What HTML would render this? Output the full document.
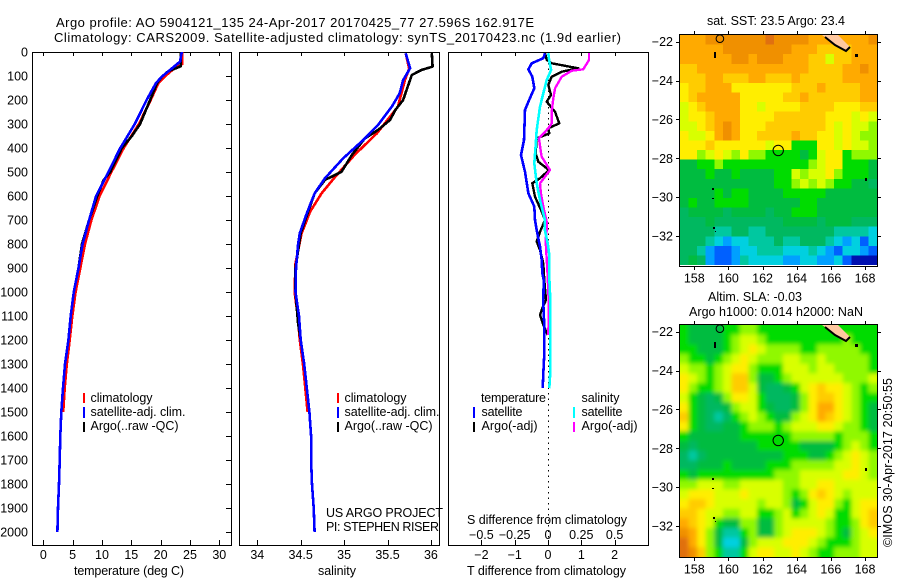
<!DOCTYPE html>
<html>
<head>
<meta charset="utf-8">
<title>Argo profile</title>
<style>
html,body{margin:0;padding:0;background:#fff;width:900px;height:580px;overflow:hidden}
svg{display:block}
text{font-family:"Liberation Sans",sans-serif;font-size:12.5px;fill:#000}
</style>
</head>
<body>
<svg id="chart" xmlns="http://www.w3.org/2000/svg" width="900" height="580" viewBox="0 0 900 580">
<defs>
<clipPath id="clip-sst"><rect x="680" y="35" width="197" height="230"/></clipPath>
<clipPath id="clip-sla"><rect x="680" y="325" width="197" height="232"/></clipPath>
<filter id="soften" x="-5%" y="-5%" width="110%" height="110%"><feGaussianBlur stdDeviation="2"/></filter>
</defs>
<text x="56" y="27" textLength="478" lengthAdjust="spacing" style="font-size:13px">Argo profile: AO 5904121_135 24-Apr-2017 20170425_77 27.596S 162.917E</text>
<text x="54" y="42" textLength="567" lengthAdjust="spacing" style="font-size:13px">Climatology: CARS2009. Satellite-adjusted climatology: synTS_20170423.nc (1.9d earlier)</text>

<g id="maps"></g>
<g id="panels"></g>

<text x="74" y="575" textLength="110" lengthAdjust="spacing">temperature (deg C)</text>
<text x="318" y="575" textLength="38" lengthAdjust="spacing">salinity</text>
<text x="467" y="575" textLength="159" lengthAdjust="spacing">T difference from climatology</text>
<text x="467" y="524" textLength="160" lengthAdjust="spacing">S difference from climatology</text>

<g>
<rect x="83" y="393" width="2" height="10" fill="#f00"/>
<rect x="83" y="407" width="2" height="11" fill="#00f"/>
<rect x="83" y="422" width="2" height="10" fill="#000"/>
<text x="90.5" y="402" textLength="62" lengthAdjust="spacing">climatology</text>
<text x="90.5" y="416" textLength="95" lengthAdjust="spacing">satellite-adj. clim.</text>
<text x="90.5" y="430" textLength="88" lengthAdjust="spacing">Argo(..raw -QC)</text>
</g>
<g>
<rect x="337" y="393" width="2" height="10" fill="#f00"/>
<rect x="337" y="407" width="2" height="11" fill="#00f"/>
<rect x="337" y="422" width="2" height="10" fill="#000"/>
<text x="344.5" y="402" textLength="62" lengthAdjust="spacing">climatology</text>
<text x="344.5" y="416" textLength="95" lengthAdjust="spacing">satellite-adj. clim.</text>
<text x="344.5" y="430" textLength="88" lengthAdjust="spacing">Argo(..raw -QC)</text>
</g>
<g>
<text x="481" y="402" textLength="65" lengthAdjust="spacing">temperature</text>
<text x="581.5" y="402" textLength="38" lengthAdjust="spacing">salinity</text>
<rect x="473" y="407" width="2" height="11" fill="#00f"/>
<rect x="473" y="422" width="2" height="10" fill="#000"/>
<rect x="573" y="407" width="2" height="11" fill="#0ff"/>
<rect x="573" y="422" width="2" height="10" fill="#f0f"/>
<text x="481.5" y="416" textLength="41" lengthAdjust="spacing">satellite</text>
<text x="481.5" y="430" textLength="56" lengthAdjust="spacing">Argo(-adj)</text>
<text x="581.5" y="416" textLength="41" lengthAdjust="spacing">satellite</text>
<text x="581.5" y="430" textLength="56" lengthAdjust="spacing">Argo(-adj)</text>
</g>
<text x="326" y="517" textLength="117" lengthAdjust="spacing">US ARGO PROJECT</text>
<text x="326" y="531" textLength="113" lengthAdjust="spacing">PI: STEPHEN RISER</text>

<text x="707" y="25" textLength="138" lengthAdjust="spacing">sat. SST: 23.5  Argo: 23.4</text>
<text x="708" y="301" textLength="94" lengthAdjust="spacing">Altim. SLA: -0.03</text>
<text x="689" y="316" textLength="174" lengthAdjust="spacing">Argo h1000: 0.014 h2000: NaN</text>
<text transform="translate(892,547) rotate(-90)" x="0" y="0" textLength="169" lengthAdjust="spacing">©IMOS 30-Apr-2017 20:50:55</text>
</svg>

<script>
// ---- axis tick labels ----
const depthTicks = [0,100,200,300,400,500,600,700,800,900,1000,1100,1200,1300,1400,1500,1600,1700,1800,1900,2000];
const temperatureTicks = [0,5,10,15,20,25,30];
const salinityTicks = [34,34.5,35,35.5,36];
const tDiffTicks = [-2,-1,0,1,2];
const sDiffTicks = [-0.5,-0.25,0,0.25,0.5];
const lonTicks = [158,160,162,164,166,168];
const latTicks = [-22,-24,-26,-28,-30,-32];

// ---- temperature panel ----
const tClimDepth = [0,50,75,100,130,200,300,400,500,600,700,800,900,1000,1100,1200,1300,1400,1500];
const tClimValue = [23.7,23.7,22,20.8,19.6,18.3,16.3,13.7,11.6,9.6,8.2,7.1,6.3,5.5,4.95,4.5,4,3.65,3.4];
const tArgoDepth = [0,60,80,103,130,200,300,350,400,500,533,600,700,800,900,1000,1100,1200,1300,1400,1500,1600,1700,1800,1900,2000];
const tArgoValue = [23.4,23.4,21.3,20.2,19.4,18.2,16.5,15.1,13.4,11.4,10.3,9.2,7.8,6.6,6,5.2,4.67,4.27,3.7,3.36,3.07,2.9,2.8,2.68,2.5,2.4];
const tSatDepth = [0,40,75,103,130,200,300,401,500,600,700,800,900,1000,1100,1200,1300,1400,1500,1600,1700,1800,1900,2000];
const tSatValue = [23.6,23.3,21.6,20.2,19.2,17.6,15.6,13.1,11.1,9,7.8,6.7,6,5.2,4.67,4.27,3.7,3.36,3.07,2.9,2.8,2.68,2.5,2.4];

// ---- salinity panel ----
const sClimDepth = [5,70,117,228,338,429,519,589,665,755,880,1000,1100,1200,1300,1400,1500];
const sClimValue = [35.71,35.75,35.7,35.62,35.38,35.12,34.9,34.74,34.61,34.51,34.44,34.43,34.465,34.49,34.525,34.553,34.58];
const sArgoDepth = [5,61,75,96,158,200,242,283,325,360,429,499,533,589,672,755,900,1000,1130,1200];
const sArgoValue = [36.01,36.02,35.89,35.78,35.72,35.68,35.59,35.53,35.39,35.24,35.09,34.97,34.78,34.66,34.58,34.5,34.44,34.44,34.47,34.5];
const sSatDepth = [5,68,117,172,228,304,367,443,526,589,672,755,800,900,1000,1100,1200,1300,1400,1500,1600,1700,1800,1900,2000];
const sSatValue = [35.71,35.76,35.68,35.64,35.55,35.39,35.22,34.99,34.78,34.66,34.57,34.49,34.47,34.446,34.44,34.48,34.5,34.54,34.57,34.6,34.62,34.62,34.63,34.65,34.66];

// ---- difference panel ----
const dtSatDepth = [5,26,47,72,103,151,207,242,367,429,499,589,644,700,742,811,867,922,950,1047,1144,1256,1339,1401];
const dtSatValue = [-0.09,-0.14,-0.49,-0.59,-0.47,-0.41,-0.59,-0.69,-0.72,-0.81,-0.69,-0.59,-0.41,-0.39,-0.34,-0.24,-0.19,-0.17,-0.13,-0.14,-0.11,-0.11,-0.14,-0.16];
const dtArgoDepth = [5,33,47,68,82,103,137,179,207,249,297,318,339,360,422,457,492,526,547,603,665,700,749,790,825,881,950,1033,1068,1096,1137,1179];
const dtArgoValue = [-0.09,-0.04,0.11,0.91,0.41,0.11,0.01,0.09,-0.04,0.21,0.34,0.01,0.04,-0.34,-0.37,-0.29,0.03,-0.24,-0.47,-0.39,-0.19,-0.09,-0.24,-0.34,-0.24,-0.14,-0.11,-0.06,-0.17,-0.24,-0.14,-0.01];
const dsArgoDepth = [5,33,72,78,103,151,193,249,297,318,360,436,492,547,589,644,707,742,783,936,1061,1179];
const dsArgoValue = [0.308,0.308,0.265,0.178,0.103,0.053,0.04,0.028,0.028,0.002,-0.068,-0.048,0.015,-0.06,-0.053,-0.035,-0.01,-0.01,-0.018,-0.002,0.007,0.002];
const dsSatDepth = [5,33,75,117,172,228,325,394,464,547,617,700,742,797,839,922,1006,1061,1144,1256,1325,1401];
const dsSatValue = [0.002,0.008,0.023,-0.01,-0.035,-0.06,-0.085,-0.093,-0.103,-0.085,-0.06,-0.023,-0.023,-0.002,0.008,0.008,0.015,0.018,0.018,0.018,0.018,0.01];

// ---- SST map cells (colour level 0-15, north to south) ----
const sstCells = [
[12,12,12,13,13,13,13,13,13,13,14,13,13,13,13,12,12,12,12,12,12,12,13],
[12,12,12,12,12,13,13,13,13,13,13,13,13,12,12,12,11,11,11,11,12,12,12],
[12,12,12,12,12,12,13,13,12,13,13,13,12,12,12,11,11,9,11,11,12,12,12],
[11,11,12,12,12,12,12,12,12,12,12,12,12,12,12,11,11,11,11,12,12,13,12],
[11,11,11,12,12,11,11,11,12,12,11,11,11,12,11,11,11,11,11,12,12,12,12],
[10,11,11,12,12,12,10,10,10,10,10,10,10,11,11,11,12,11,11,11,11,12,12],
[10,11,12,12,12,12,12,10,10,10,10,10,11,11,12,11,11,11,11,11,11,12,12],
[9,10,11,12,12,12,12,10,10,9,10,10,10,10,11,11,11,11,10,10,10,11,11],
[9,10,10,11,12,12,12,10,10,10,10,11,11,11,11,11,11,10,10,10,9,10,9],
[9,9,10,11,12,13,12,10,10,10,11,11,11,11,11,11,11,10,9,10,9,9,8],
[10,9,9,10,12,13,12,10,10,11,11,11,11,12,11,11,10,10,9,10,9,8,8],
[10,10,10,11,10,10,10,10,10,10,9,10,10,7,7,7,10,10,9,10,9,9,8],
[10,10,8,9,10,9,8,10,8,8,7,7,7,7,6,7,9,10,10,7,8,8,8],
[6,6,7,7,8,7,7,7,7,7,7,7,7,7,7,8,9,10,10,7,7,7,6],
[6,6,6,7,6,6,7,6,6,6,6,7,7,9,8,9,9,10,8,7,7,7,6],
[6,6,6,6,6,6,6,6,6,6,6,7,7,8,9,8,9,8,7,7,6,6,5],
[6,6,6,6,7,6,7,7,6,6,6,6,7,7,7,7,7,6,6,6,6,6,6],
[6,7,6,6,7,7,7,7,6,6,6,6,6,6,7,7,6,6,6,6,6,6,6],
[5,6,6,6,6,5,6,6,6,6,5,6,6,7,7,7,6,6,6,6,6,6,6],
[5,5,5,6,5,5,5,5,5,5,5,5,6,6,6,6,5,6,6,6,5,5,5],
[5,5,5,5,4,4,5,5,4,4,5,5,5,5,5,5,5,5,4,4,4,4,3],
[5,5,5,4,3,2,3,3,4,4,4,5,4,4,5,5,5,4,3,2,3,1,3],
[5,5,4,2,1,1,2,3,3,4,4,4,3,3,3,4,3,2,1,3,3,2,1],
[5,6,5,2,1,1,2,4,3,3,3,3,2,2,3,3,2,2,3,1,0,0,0]
];

// ---- sea level anomaly map cells (colour level 0-15, north to south) ----
const slaCells = [
[7,6,6,6,6,7,7,8,8,7,7,7,7,7,7,7,7,7,7,7,7,7,7],
[7,6,6,6,6,7,8,9,9,8,7,7,7,7,7,7,7,7,7,8,7,7,7],
[7,7,6,6,6,7,8,9,10,9,8,8,8,8,7,7,8,8,8,8,8,7,7],
[8,7,7,6,7,8,9,10,9,8,8,8,9,9,8,8,9,8,8,8,8,8,7],
[9,8,8,7,8,9,10,10,8,7,7,7,9,9,9,8,9,9,8,8,8,8,7],
[10,9,8,7,8,9,11,11,8,6,6,7,8,9,9,9,9,9,9,8,8,8,9],
[10,8,7,7,8,9,11,11,9,6,5,5,6,7,9,10,11,10,10,9,8,7,8],
[9,7,6,5,6,8,10,10,9,7,5,5,5,6,8,10,11,11,10,9,8,7,7],
[10,7,6,5,5,6,8,9,9,7,6,5,5,6,8,10,12,12,10,9,8,7,6],
[11,7,6,5,4,5,7,8,9,8,7,6,6,8,9,10,12,11,10,9,8,7,6],
[10,7,6,5,5,6,6,7,8,8,8,7,8,9,9,9,10,10,9,8,8,7,6],
[7,6,6,6,6,6,6,7,7,7,7,7,7,8,8,8,8,8,7,8,8,8,7],
[6,5,6,6,6,6,6,6,6,7,7,7,7,7,6,6,6,6,7,8,9,8,7],
[5,4,5,6,6,6,6,6,6,6,6,6,7,7,7,6,6,7,8,9,10,9,8],
[5,5,6,6,6,7,6,6,6,6,7,7,7,8,8,8,8,8,9,9,10,9,8],
[7,6,7,7,7,7,7,7,7,7,7,8,8,8,9,9,9,9,9,10,10,9,8],
[8,8,9,9,9,8,8,9,9,9,9,9,8,8,9,9,10,10,9,9,9,9,9],
[9,10,10,10,9,9,9,10,9,9,9,9,8,7,8,10,11,10,9,8,9,9,9],
[10,11,11,10,9,9,9,9,9,8,9,9,8,6,7,9,10,10,8,7,9,10,10],
[11,11,10,9,9,8,8,9,9,7,7,8,9,7,8,9,10,9,7,7,9,10,11],
[12,11,10,9,7,6,6,8,8,6,6,8,9,9,9,9,9,8,7,7,8,10,11],
[13,12,10,8,6,4,4,7,8,6,6,8,9,10,10,10,9,8,7,6,8,9,10],
[14,12,10,8,6,3,3,6,8,9,9,9,10,10,10,9,8,7,7,7,8,9,9],
[14,13,11,8,7,4,4,7,9,10,10,9,9,10,9,8,7,7,8,8,8,9,9]
];

// ---- Argo float position ----
const floatLon = 162.917;
const floatLat = -27.596;

const NS = 'http://www.w3.org/2000/svg';
const levelColors = ['#0010b0','#0060ff','#00a0ff','#00d0e0','#00c8a0','#00b860','#00bc40','#00dc00','#90f800','#d8ff00','#ffee00','#ffcc00','#ffaa00','#f09000','#e07010','#c04400'];
const panelsLayer = document.getElementById('panels');
const mapsLayer = document.getElementById('maps');

function el(tag, attrs, parent){
  const n = document.createElementNS(NS, tag);
  for (const k in attrs) n.setAttribute(k, attrs[k]);
  parent.appendChild(n);
  return n;
}
function fmt(v){ return String(v).replace('-', '\u2212'); }

const yTop = 52, yBottom = 545;
const depthY = d => 52 + d * 0.24;
const tempX = t => 43.3 + t * 5.867;
const salX = s => 257.3 + (s - 34) * 86.8;
const dtX = v => 548 + v * 33.3;
const dsX = v => 548 + v * 133.2;

function drawProfile(group, depths, values, xFn, color, width, name){
  const pts = depths.map((d, i) => xFn(values[i]).toFixed(1) + ',' + depthY(d).toFixed(1)).join(' ');
  const p = el('polyline', {points: pts, fill: 'none', stroke: color, 'stroke-width': width, 'shape-rendering': 'crispEdges', 'stroke-linejoin': 'round'}, group);
  
  
}
function drawPanel(name, x0, x1){
  const g = el('g', {}, panelsLayer);
  
  
  const r = el('rect', {x: x0 + 0.5, y: yTop + 0.5, width: x1 - x0, height: yBottom - yTop, fill: '#fff', stroke: '#000', 'stroke-width': 1.2, 'shape-rendering': 'crispEdges'}, g);
  
  
  return g;
}
function tick(g, x1, y1, x2, y2, name){
  const t = el('line', {x1: x1, y1: y1, x2: x2, y2: y2, stroke: '#000', 'stroke-width': 1, 'shape-rendering': 'crispEdges'}, g);
  
  
}
function label(g, x, y, str, anchor, name){
  const t = el('text', {x: x, y: y, 'text-anchor': anchor}, g);
  t.textContent = str;
  
  
}
function xTicks(g, ticks, xFn, labelY, name){
  ticks.forEach(v => {
    const x = Math.round(xFn(v)) + 0.5;
    tick(g, x, yTop, x, yTop + 4, name + '-top-tick');
    tick(g, x, yBottom, x, yBottom - 5, name + '-bottom-tick');
    label(g, xFn(v), labelY, fmt(v), 'middle', name + '-tick-label');
  });
}

// temperature panel
const p1 = drawPanel('temperature-panel', 32, 231);
xTicks(p1, temperatureTicks, tempX, 559, 'temperature');
depthTicks.forEach(d => {
  const y = Math.round(depthY(d)) + 0.5;
  tick(p1, 226, y, 231, y, 'depth-tick');
  label(p1, 28, depthY(d) + 4.5, String(d), 'end', 'depth-tick-label');
});
drawProfile(p1, tClimDepth, tClimValue, tempX, '#f00', 2.6, 'temperature-climatology-line');
drawProfile(p1, tArgoDepth, tArgoValue, tempX, '#000', 2.6, 'temperature-argo-line');
drawProfile(p1, tSatDepth, tSatValue, tempX, '#00f', 2.6, 'temperature-satellite-line');

// salinity panel
const p2 = drawPanel('salinity-panel', 239, 439);
xTicks(p2, salinityTicks, salX, 559, 'salinity');
drawProfile(p2, sClimDepth, sClimValue, salX, '#f00', 2.6, 'salinity-climatology-line');
drawProfile(p2, sArgoDepth, sArgoValue, salX, '#000', 2.6, 'salinity-argo-line');
drawProfile(p2, sSatDepth, sSatValue, salX, '#00f', 2.6, 'salinity-satellite-line');

// difference panel
const p3 = drawPanel('difference-panel', 448, 648);
xTicks(p3, tDiffTicks, dtX, 559, 't-difference');
sDiffTicks.forEach(v => {
  label(p3, dsX(v), 539, fmt(v), 'middle', 's-difference-tick-label');
});
const zero = el('line', {x1: dtX(0) + 0.5, y1: yTop, x2: dtX(0) + 0.5, y2: yBottom, stroke: '#000', 'stroke-width': 1, 'stroke-dasharray': '1.5 4', 'shape-rendering': 'crispEdges'}, p3);


drawProfile(p3, dtArgoDepth, dtArgoValue, dtX, '#000', 2.4, 't-difference-argo-line');
drawProfile(p3, dtSatDepth, dtSatValue, dtX, '#00f', 2.6, 't-difference-satellite-line');
drawProfile(p3, dsArgoDepth, dsArgoValue, dsX, '#f0f', 2.4, 's-difference-argo-line');
drawProfile(p3, dsSatDepth, dsSatValue, dsX, '#0ff', 2.6, 's-difference-satellite-line');

// maps
const mapLeft = 680, mapRight = 877;
const lonX = lon => 694.3 + (lon - 158) * 17.07;
function drawMap(name, cells, top, bottom, frameBottom, clipId, soft){
  const g = el('g', {}, mapsLayer);
  
  
  const latY = lat => top + 6.7 + (-22 - lat) * 19.43;
  const clip = el('g', {'clip-path': 'url(#' + clipId + ')'}, g);
  const field = el('g', soft ? {filter: 'url(#soften)'} : {'shape-rendering': 'crispEdges'}, clip);
  const rows = cells.length, cols = cells[0].length;
  const w = (mapRight - mapLeft) / cols, h = (bottom - top) / rows;
  const pad = soft ? 12 : 0;
  cells.forEach((row, r) => row.forEach((v, c) => {
    const x0 = mapLeft + c * w - (c === 0 ? pad : 0);
    const y0 = top + r * h - (r === 0 ? pad : 0);
    const x1 = mapLeft + (c + 1) * w + (c === cols - 1 ? pad : 0);
    const y1 = top + (r + 1) * h + (r === rows - 1 ? pad : 0);
    const cell = el('rect', {x: x0, y: y0, width: x1 - x0 + 0.4, height: y1 - y0 + 0.4, fill: levelColors[v]}, field);
    
    
  }));
  const ox = mapLeft, oy = top;
  const land = el('polygon', {points: [[ox+142,oy],[ox+158,oy],[ox+170,oy+12],[ox+166,oy+16],[ox+155,oy+10],[ox+145,oy+2]].map(p => p.join(',')).join(' '), fill: '#ffc8a0', stroke: 'none'}, clip);
  
  
  const coast = el('polyline', {points: [[ox+145,oy+2],[ox+155,oy+10],[ox+166,oy+16],[ox+170,oy+12]].map(p => p.join(',')).join(' '), fill: 'none', stroke: '#000', 'stroke-width': 2}, clip);
  
  
  [[34,17,2,6],[175,19,3,3],[32,153,2,2],[32,163,2,1],[33,192,2,2],[35,196,1,1],[185,143,2,3]].forEach(s => {
    const isle = el('rect', {x: ox + s[0], y: oy + s[1], width: s[2], height: s[3], fill: '#000'}, clip);
    
    
  });
  const islandRing = el('circle', {cx: lonX(159.5), cy: latY(-22) - 3, r: 3.8, fill: 'none', stroke: '#000', 'stroke-width': 1}, clip);
  
  
  const argo = el('circle', {cx: lonX(floatLon), cy: latY(floatLat), r: 5.2, fill: 'none', stroke: '#000', 'stroke-width': 1}, g);
  
  
  const frame = el('rect', {x: mapLeft - 0.5, y: top - 0.5, width: mapRight - mapLeft + 1, height: frameBottom - top + 1, fill: 'none', stroke: '#000', 'stroke-width': 1, 'shape-rendering': 'crispEdges'}, g);
  
  
  lonTicks.forEach(v => {
    const x = Math.round(lonX(v)) + 0.5;
    tick(g, x, top - 4, x, top, 'longitude-top-tick');
    tick(g, x, frameBottom, x, frameBottom + 4, 'longitude-bottom-tick');
    label(g, lonX(v), frameBottom + 16.5, String(v), 'middle', 'longitude-tick-label');
  });
  latTicks.forEach(v => {
    const y = Math.round(latY(v)) + 0.5;
    tick(g, mapLeft - 4, y, mapLeft, y, 'latitude-left-tick');
    tick(g, mapRight, y, mapRight + 4, y, 'latitude-right-tick');
    label(g, 673, latY(v) + 4.5, fmt(v), 'end', 'latitude-tick-label');
  });
}
drawMap('sst-map', sstCells, 35, 265, 266, 'clip-sst', false);
drawMap('sla-map', slaCells, 325, 557, 557, 'clip-sla', true);
</script>
</body>
</html>
